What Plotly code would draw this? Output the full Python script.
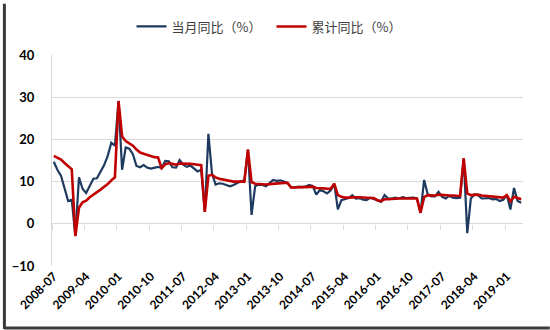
import plotly.graph_objects as go
import pandas as pd

months = [p.strftime("%Y-%m") for p in pd.period_range("2008-07", "2019-05", freq="M")]

monthly_yoy = [
    14.7, 12.8, 11.4, 8.2, 5.4, 5.7,
    -2.9, 11.0, 8.3, 7.3, 8.9, 10.7, 10.8, 12.3, 13.9, 16.1, 19.2, 18.5,
    29.1, 12.8, 18.1, 17.8, 16.5, 13.7, 13.4, 13.9, 13.3, 13.1, 13.3, 13.5,
    13.2, 14.9, 14.8, 13.4, 13.3, 15.1, 14.0, 13.5, 13.8, 13.2, 12.4, 12.8,
    2.8, 21.3, 11.9, 9.3, 9.6, 9.5, 9.2, 8.9, 9.2, 9.6, 10.1, 10.3,
    17.6, 2.1, 8.9, 9.3, 9.2, 8.9, 9.7, 10.4, 10.2, 10.3, 10.0, 9.7,
    8.6, 8.6, 8.8, 8.7, 8.8, 9.2, 9.0, 6.9, 8.0, 7.7, 7.2, 7.9,
    9.5, 3.4, 5.6, 5.9, 6.1, 6.8, 6.0, 6.1, 5.7, 5.6, 6.2, 5.9,
    5.6, 5.2, 6.8, 6.0, 6.0, 6.2, 6.0, 6.3, 6.1, 6.1, 6.2, 6.0,
    2.6, 10.4, 7.0, 6.5, 6.5, 7.6, 6.4, 6.0, 6.6, 6.2, 6.1, 6.2,
    15.5, -2.2, 6.0, 7.0, 6.8, 6.0, 6.0, 6.1, 5.8, 5.9, 5.4, 5.7,
    6.8, 3.4, 8.5, 5.4, 5.0,
]

cumulative_yoy = [
    16.1, 15.7, 15.2, 14.4, 13.7, 12.9,
    -2.9, 3.8, 5.1, 5.5, 6.3, 7.0, 7.5, 8.1, 8.7, 9.4, 10.3, 11.0,
    29.1, 20.7, 19.6, 19.1, 18.5, 17.6, 16.9, 16.6, 16.3, 16.1, 15.8, 15.7,
    13.2, 14.1, 14.4, 14.2, 14.0, 14.3, 14.3, 14.2, 14.2, 14.1, 14.0, 13.9,
    2.8, 11.4, 11.6, 11.0, 10.7, 10.5, 10.3, 10.1, 10.0, 10.0, 10.0, 10.0,
    17.6, 9.9, 9.5, 9.4, 9.4, 9.3, 9.4, 9.5, 9.6, 9.7, 9.7, 9.7,
    8.6, 8.6, 8.7, 8.7, 8.7, 8.8, 8.8, 8.5, 8.5, 8.4, 8.3, 8.3,
    9.5, 6.8, 6.4, 6.2, 6.2, 6.3, 6.3, 6.3, 6.2, 6.1, 6.1, 6.1,
    5.6, 5.4, 5.8, 5.8, 5.9, 6.0, 6.0, 6.0, 6.0, 6.0, 6.0, 6.0,
    2.6, 6.3, 6.8, 6.7, 6.7, 6.9, 6.8, 6.7, 6.7, 6.7, 6.6, 6.6,
    15.5, 7.2, 6.8, 6.9, 6.9, 6.7, 6.6, 6.5, 6.4, 6.4, 6.3, 6.2,
    6.8, 5.3, 6.4, 6.1, 5.8,
]

series_names = ["当月同比（%）", "累计同比（%）"]
y_ticks = [-10, 0, 10, 20, 30, 40]
label_step = 9

idx = list(range(len(months)))
tick_idx = idx[::label_step]
tick_text = [months[i] for i in tick_idx]

fig = go.Figure()
fig.add_trace(go.Scatter(x=idx, y=monthly_yoy, name=series_names[0], mode="lines",
                         line=dict(color="#1F3A5F", width=2.2), hoverinfo="skip"))
fig.add_trace(go.Scatter(x=idx, y=cumulative_yoy, name=series_names[1], mode="lines",
                         line=dict(color="#C00000", width=2.6), hoverinfo="skip"))
# helper trace for the tick-mark axis at y=0
fig.add_trace(go.Scatter(x=[idx[0], idx[-1]], y=[0, 0], xaxis="x2", mode="lines",
                         line=dict(width=0), opacity=0, showlegend=False, hoverinfo="skip"))

grid = "#D9D9D9"
fig.update_layout(
    width=550, height=330,
    margin=dict(l=48, r=27, t=52, b=64),
    paper_bgcolor="white", plot_bgcolor="white",
    showlegend=True,
    legend=dict(orientation="h", x=0.466, xanchor="center", y=1.135, yanchor="middle",
                font=dict(family="Noto Sans CJK SC", size=13, color="#404040"),
                itemwidth=30, entrywidth=95, entrywidthmode="pixels",
                tracegroupgap=0, bgcolor="rgba(0,0,0,0)"),
    xaxis=dict(range=[-0.5, len(months) - 0.5], tickmode="array", tickvals=tick_idx,
               ticktext=tick_text, tickangle=-45, showgrid=False, zeroline=False,
               showline=False, ticks="",
               tickfont=dict(family="Lato", size=12, color="#000000", weight="bold")),
    xaxis2=dict(overlaying="x", matches="x", anchor="free", position=0.2,
                tickmode="array", tickvals=[i - 0.5 for i in tick_idx],
                ticks="outside", ticklen=5, tickcolor=grid, tickwidth=1,
                showticklabels=False, showgrid=False, zeroline=False, showline=False),
    yaxis=dict(range=[-10, 40], tickmode="array", tickvals=y_ticks, showgrid=True,
               gridcolor=grid, gridwidth=1, zeroline=False, showline=True,
               linecolor=grid, linewidth=1, ticks="", ticklabelstandoff=14,
               tickfont=dict(family="Lato", size=13, color="#000000", weight="bold")),
    shapes=[
        dict(type="line", xref="paper", yref="paper", x0=-48/475, x1=-48/475,
             y0=-64/214, y1=(214+52)/214, line=dict(color="#3A3A3A", width=3)),
        dict(type="line", xref="paper", yref="paper", x0=-48/475, x1=(475+27)/475,
             y0=-63/214, y1=-63/214, line=dict(color="#3A3A3A", width=3)),
    ],
)

fig.write_html("out.html")
